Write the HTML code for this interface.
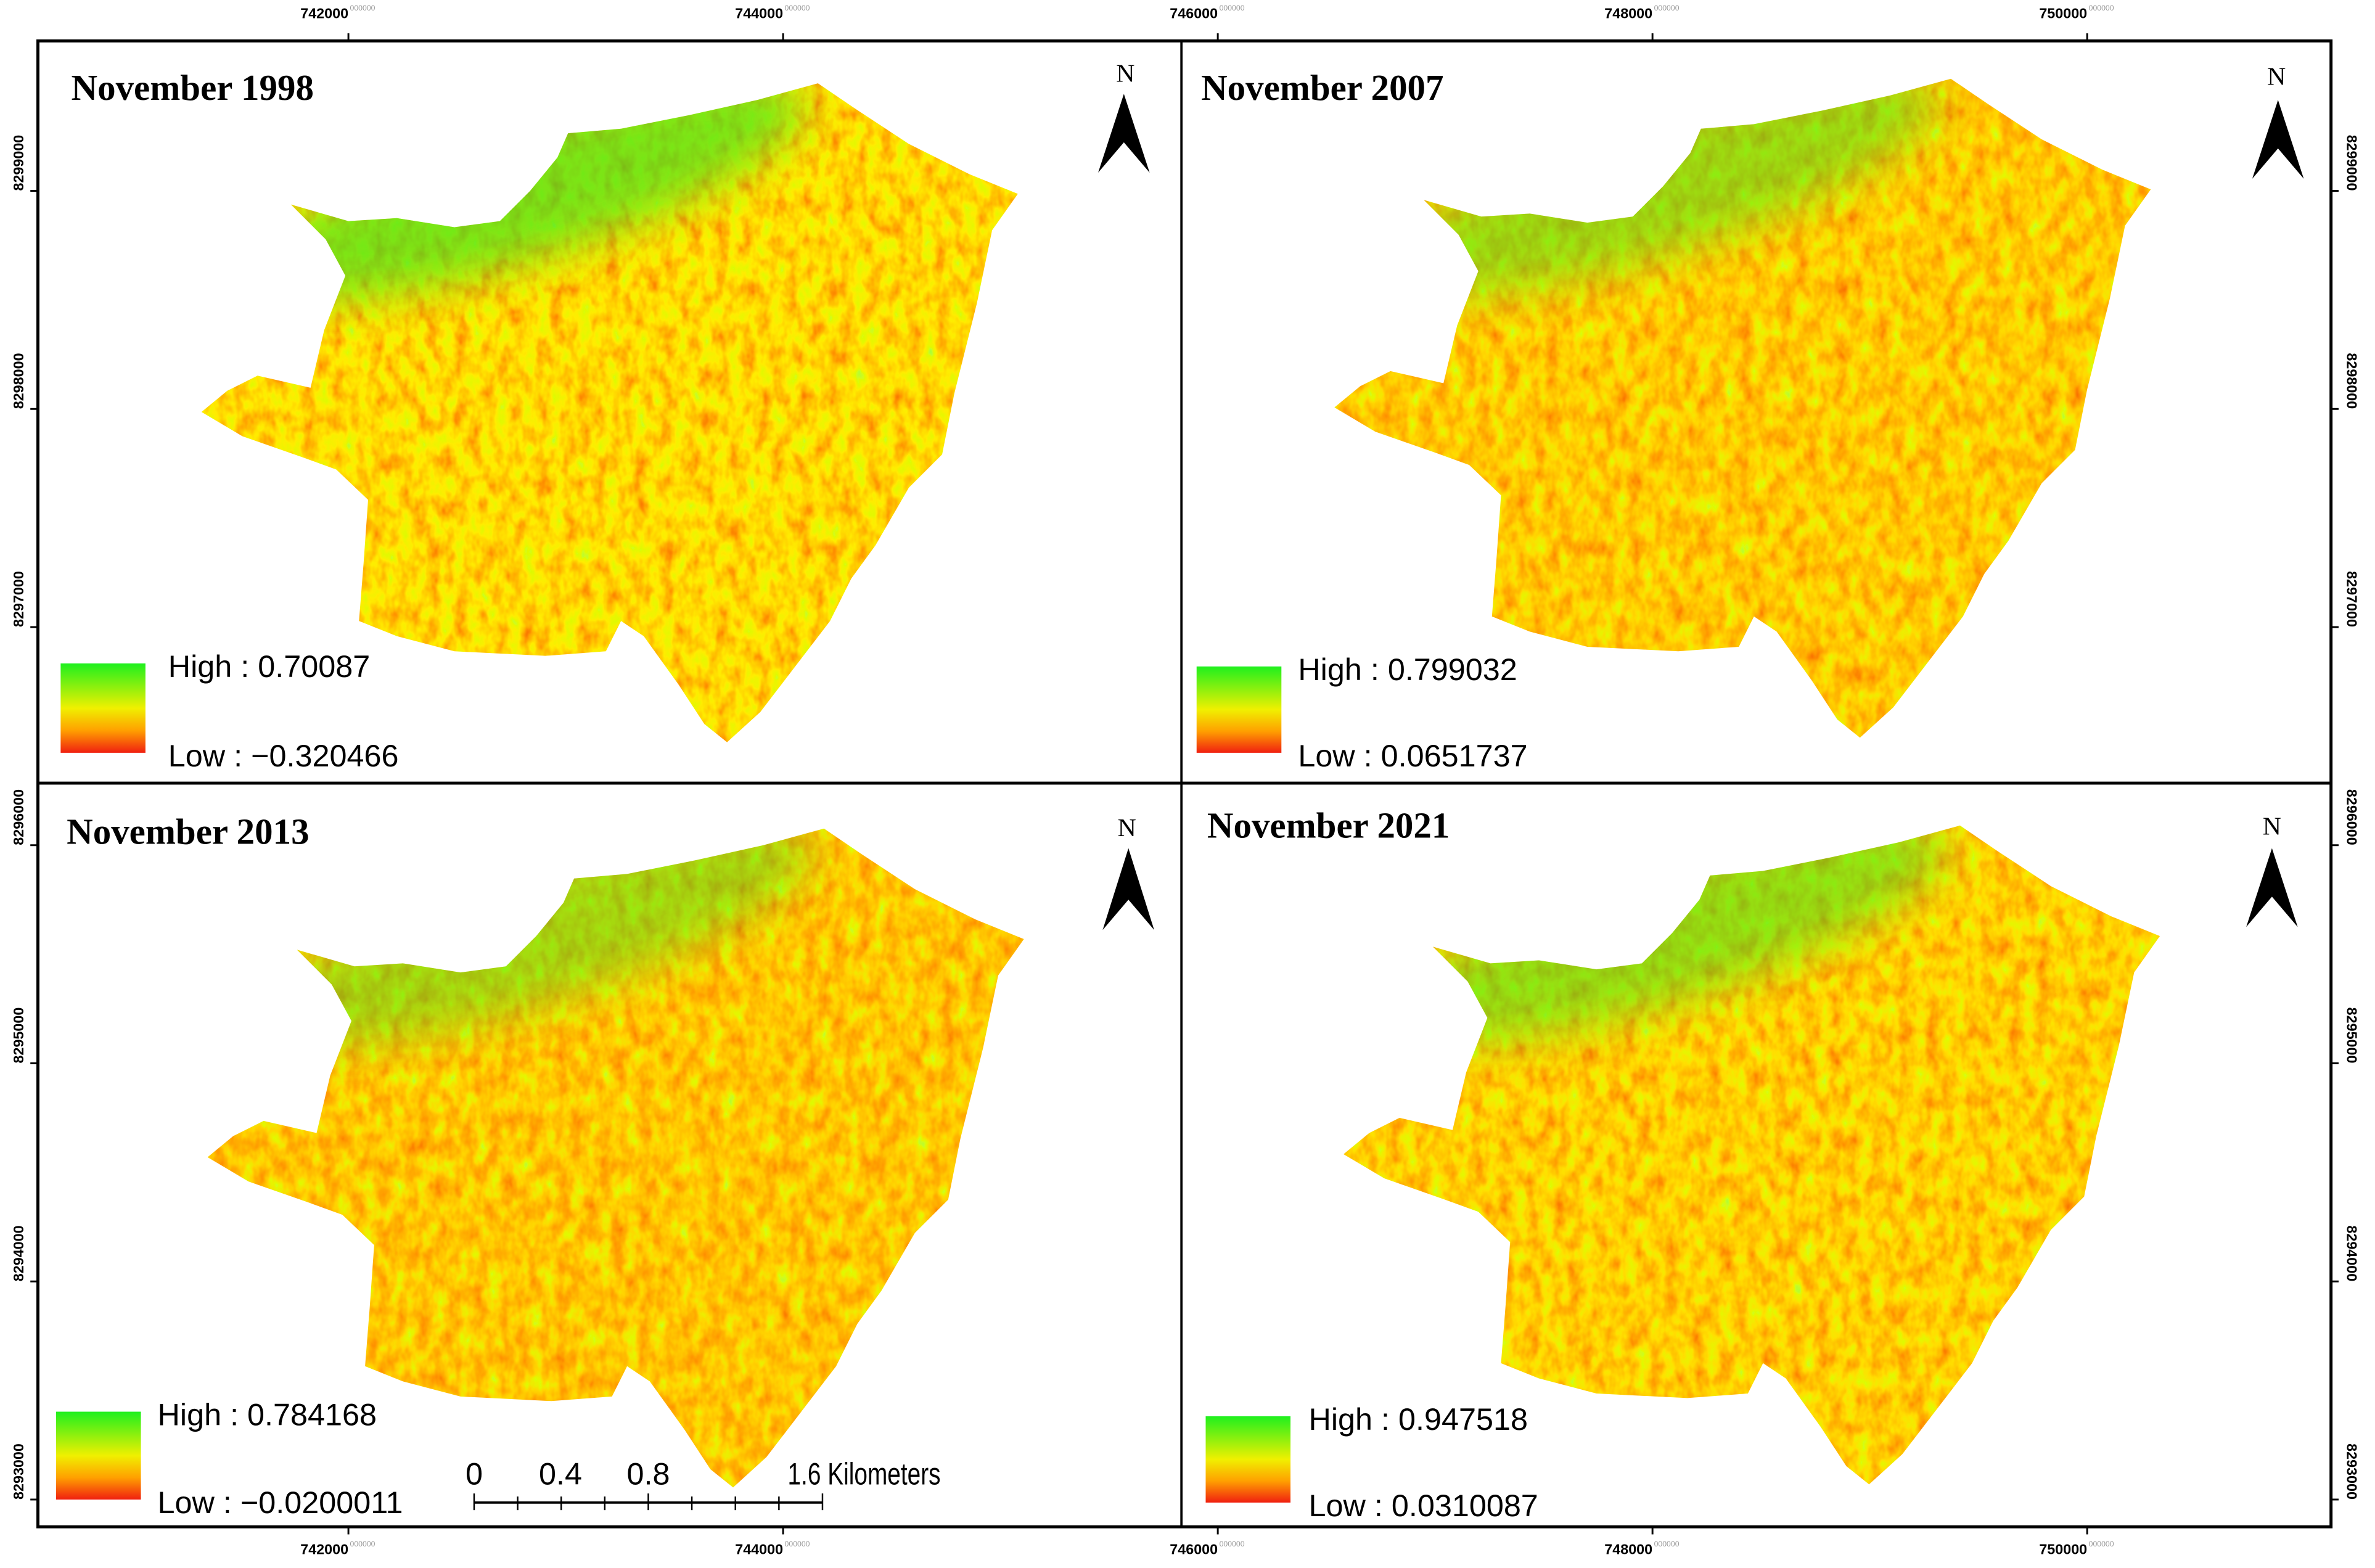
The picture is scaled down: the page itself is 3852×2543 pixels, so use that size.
<!DOCTYPE html>
<html><head><meta charset="utf-8"><style>
html,body{margin:0;padding:0;background:#fff;}
svg{display:block;}
.t{font-family:"Liberation Serif",serif;font-weight:bold;font-size:24px;}
.lg{font-family:"Liberation Sans Narrow","Liberation Sans",sans-serif;font-size:20.5px;}
.ax{font-family:"Liberation Sans Narrow","Liberation Sans",sans-serif;font-size:9.5px;font-weight:bold;}
.sup{font-family:"Liberation Sans",sans-serif;font-size:5px;fill:#999;}
</style></head><body>
<svg id="fig" xmlns="http://www.w3.org/2000/svg" width="3852" height="2543" viewBox="0 0 1568 1035.2">
<defs>
<linearGradient id="leg" x1="0" y1="0" x2="0" y2="1">
<stop offset="0" stop-color="#1ef01e"/><stop offset="0.5" stop-color="#f0f000"/><stop offset="0.75" stop-color="#ffa000"/><stop offset="1" stop-color="#f02010"/>
</linearGradient>
<path id="shape" d="M192,135 L230,146 L262,144 L300,150 L330,146 L350,126 L368,104 L375,88 L410,85 L455,76 L500,66 L540,55 L565,72 L600,95 L640,115 L672,128 L655,152 L645,200 L630,260 L622,300 L600,322 L578,360 L562,382 L548,410 L525,440 L502,470 L480,490 L465,478 L448,452 L425,420 L410,410 L400,430 L360,433 L300,430 L262,420 L237,410 L240,372 L243,330 L222,310 L200,302 L160,288 L133,272 L150,258 L170,248 L205,256 L214,218 L228,182 L215,158 Z"/>
</defs>
<rect x="0" y="0" width="1568" height="1035.2" fill="#fff"/>
<g id="panels"></g>
<g id="frame" fill="none" stroke="#000">
<rect x="25" y="27" width="1514" height="981" stroke-width="2"/>
<line x1="780" y1="27" x2="780" y2="1008" stroke-width="1.5"/>
<line x1="25" y1="517" x2="1539" y2="517" stroke-width="2"/>
</g>
<g id="axes"></g>
<g id="scalebar">
<line x1="313" y1="992" x2="543" y2="992" stroke="#000" stroke-width="1.5"/>
<g id="sbticks"></g>
<text class="lg" x="313" y="980" font-size="13" text-anchor="middle">0</text>
<text class="lg" x="370" y="980" font-size="13" text-anchor="middle">0.4</text>
<text class="lg" x="428" y="980" font-size="13" text-anchor="middle">0.8</text>
<text class="lg" x="520" y="980" font-size="13" textLength="101" lengthAdjust="spacingAndGlyphs">1.6 Kilometers</text>
</g>
</svg>
<script>
const NS="http://www.w3.org/2000/svg";
const xTickLabels=["742000","744000","746000","748000","750000"];
const xTickVals=[742000,744000,746000,748000,750000];
const yTickLabels=["8299000","8298000","8297000","8296000","8295000","8294000","8293000"];
const yTickVals=[8299000,8298000,8297000,8296000,8295000,8294000,8293000];
const panelTitles=["November 1998","November 2007","November 2013","November 2021"];
const highVals=["0.70087","0.799032","0.784168","0.947518"];
const lowVals=["\u22120.320466","0.0651737","\u22120.0200011","0.0310087"];
const greenness=[0.7,0.3,0.2,0.4];
function xs(v){return 230+(v-742000)*(287/2000);}
function ys(v){return 126+(8299000-v)*(144/1000);}
function mk(tag,attrs,parent){const e=document.createElementNS(NS,tag);for(const k in attrs)e.setAttribute(k,attrs[k]);parent.appendChild(e);return e;}
const fig=document.getElementById('fig');
const defs=fig.querySelector('defs');
const panels=document.getElementById('panels');
const offs=[[0,0,47,66,743,48,742,62,114,40,438,497,111],[748,-3,793,66,1503,50,1504,66,118,790,440,497,857],[4,492,44,557,744,546,745,560,614,37,932,990,104],[754,490,797,553,1500,545,1500,560,612,796,935,992,864]];
offs.forEach((o,i)=>{
  const g=mk('g',{},panels);
  
  
  const f=mk('filter',{id:'tex'+i,x:'0',y:'0',width:'100%',height:'100%'},defs);
  mk('feTurbulence',{type:'fractalNoise',baseFrequency:'0.11 0.07',numOctaves:'3',seed:String(i*7+3),result:'n'},f);
  mk('feColorMatrix',{in:'n',type:'matrix',values:'1 0 0 0 0 1 0 0 0 0 1 0 0 0 0 0 0 0 0 1',result:'g'},f);
  const ct=mk('feComponentTransfer',{in:'g',result:'c'},f);
  const gr=greenness[i];
  mk('feFuncR',{type:'table',tableValues:'0.93 1 1 1 0.75 0.3'},ct);
  mk('feFuncG',{type:'table',tableValues:'0.12 0.3 '+(0.42+gr*0.2).toFixed(2)+' '+(0.6+gr*0.35).toFixed(2)+' 0.95 1'},ct);
  mk('feFuncB',{type:'table',tableValues:'0 0 0 0 0 0.05'},ct);
  mk('feComposite',{in:'c',in2:'SourceGraphic',operator:'in'},f);
  const cp=mk('clipPath',{id:'clip'+i},defs);
  mk('use',{href:'#shape',transform:`translate(${o[0]},${o[1]})`},cp);
  const m=mk('g',{},g);
  
  
  mk('use',{href:'#shape',transform:`translate(${o[0]},${o[1]})`,fill:'#000',filter:`url(#tex${i})`},m);
  const gc=mk('g',{'clip-path':`url(#clip${i})`},m);
  const bl=mk('filter',{id:'bl'+i,x:'-50%',y:'-50%',width:'200%',height:'200%'},defs);
  mk('feGaussianBlur',{stdDeviation:'14'},bl);
  mk('ellipse',{cx:o[0]+350,cy:o[1]+125,rx:190,ry:45,fill:'#30e020',opacity:String(0.35+gr*0.4),filter:`url(#bl${i})`,transform:`rotate(-18 ${o[0]+350} ${o[1]+125})`},gc);
  const t=mk('text',{class:'t',x:o[2],y:o[3]},g);t.textContent=panelTitles[i];
  
  const na=mk('g',{},g);
  
  const n=mk('text',{x:o[4],y:o[5]+6,'font-family':'Liberation Serif, serif','font-size':'17','text-anchor':'middle'},na);n.textContent='N';
  const cx=o[6],ty=o[7],by=o[8];
  mk('path',{d:`M${cx},${ty} L${cx+17},${by} L${cx},${by-20} L${cx-17},${by} Z`,fill:'#000'},na);
  const lg=mk('g',{},g);
  
  mk('rect',{x:o[9],y:o[10],width:56,height:o[11]-o[10],fill:'url(#leg)'},lg);
  const h=mk('text',{class:'lg',x:o[12],y:o[10]+9},lg);h.textContent='High : '+highVals[i];
  const l=mk('text',{class:'lg',x:o[12],y:o[11]+9},lg);l.textContent='Low : '+lowVals[i];
});
const ax=document.getElementById('axes');
xTickVals.forEach((v,i)=>{
  const x=xs(v);
  [[27,-5,12],[1008,5,1026]].forEach(([y0,d,ty])=>{
    const tk=mk('line',{x1:x,y1:y0,x2:x,y2:y0+d,stroke:'#000','stroke-width':1.2},ax);
    
    const tx=mk('text',{class:'ax',x:x,y:ty,'text-anchor':'end'},ax);tx.textContent=xTickLabels[i];
    
    const s=mk('text',{class:'sup',x:x+1,y:ty-5},ax);s.textContent='000000';
  });
});
yTickVals.forEach((v,i)=>{
  const y=ys(v);
  [[25,-5,12,-90],[1539,5,1553,90]].forEach(([x0,d,tx0,rot])=>{
    const tk=mk('line',{x1:x0,y1:y,x2:x0+d,y2:y,stroke:'#000','stroke-width':1.2},ax);
    
    const tx=mk('text',{class:'ax',x:tx0,y:y,'text-anchor':rot<0?'start':'end',transform:`rotate(${rot} ${tx0} ${y})`,dy:'3.5'},ax);tx.textContent=yTickLabels[i];
    
  });
});
const sb=document.getElementById('sbticks');
for(let k=0;k<=8;k++){const x=313+k*28.75;mk('line',{x1:x,y1:(k%4==0)?986:988,x2:x,y2:997,stroke:'#000','stroke-width':1},sb);}
</script>
</body></html>
